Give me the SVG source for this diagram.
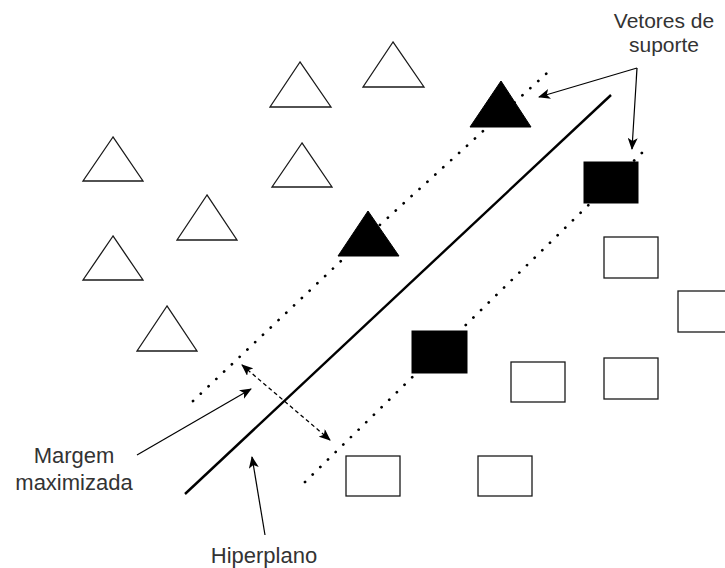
<svg xmlns="http://www.w3.org/2000/svg" width="725" height="568" viewBox="0 0 725 568">
  <style>
    .label { font-family: "Liberation Sans", Arial, sans-serif; font-size: 22px; fill: #333333; text-anchor: middle; }
    .tight { font-size: 21px; }
    .hollow { fill: #ffffff; stroke: #1a1a1a; stroke-width: 1.3; }
    .solid { fill: #000000; stroke: #000000; stroke-width: 1; }
    .margin { fill: none; stroke: #000000; stroke-width: 2.7; stroke-dasharray: 0.1 10.6; stroke-linecap: round; }
    .hyper { fill: none; stroke: #000000; stroke-width: 2.4; }
    .pointer { fill: none; stroke: #000000; stroke-width: 1.2; }
    .gap { fill: none; stroke: #000000; stroke-width: 1.3; stroke-dasharray: 4 3; }
  </style>
  <defs>
    <marker id="classic" viewBox="0 0 12 10" refX="11" refY="5" markerWidth="12" markerHeight="10" markerUnits="userSpaceOnUse" orient="auto-start-reverse">
      <path d="M0,0 L12,5 L0,10 L3,5 Z" fill="#000000"/>
    </marker>
  </defs>
  <rect width="725" height="568" fill="#ffffff"/>

  <!-- margin boundaries and separating line -->
  <g id="connectors">
    <polyline class="margin" points="193,401 360,243 547,73"/>
    <line class="margin" x1="305" y1="482" x2="649" y2="146"/>
    <line class="hyper" x1="185" y1="494" x2="611" y2="95"/>
    <line class="gap" x1="242" y1="365" x2="330" y2="440" marker-start="url(#classic)" marker-end="url(#classic)"/>
    <line class="pointer" x1="137" y1="455" x2="251" y2="389" marker-end="url(#classic)"/>
    <line class="pointer" x1="265" y1="535" x2="252" y2="457" marker-end="url(#classic)"/>
    <line class="pointer" x1="637" y1="68" x2="539" y2="97" marker-end="url(#classic)"/>
    <line class="pointer" x1="637" y1="68" x2="632" y2="149" marker-end="url(#classic)"/>
  </g>

  <!-- class A: triangles -->
  <g id="tri1"><polygon class="hollow" points="300,62 270,107 331,107"/></g>
  <g id="tri2"><polygon class="hollow" points="393,42 363,87 424,87"/></g>
  <g id="tri3"><polygon class="hollow" points="302,143 272,187 332,187"/></g>
  <g id="tri4"><polygon class="hollow" points="113,137 83,181 143,181"/></g>
  <g id="tri5"><polygon class="hollow" points="207,195 177,240 237,240"/></g>
  <g id="tri6"><polygon class="hollow" points="113,236 83,280 143,280"/></g>
  <g id="tri7"><polygon class="hollow" points="167,306 137,351 197,351"/></g>
  <g id="sv-tri1"><polygon class="solid" points="501,81 470,127 531,127"/></g>
  <g id="sv-tri2"><polygon class="solid" points="368,211 338,256 399,256"/></g>

  <!-- class B: rectangles -->
  <g id="sv-sq1"><rect class="solid" x="584" y="162" width="54" height="41"/></g>
  <g id="sv-sq2"><rect class="solid" x="412" y="331" width="55" height="42"/></g>
  <g id="sq1"><rect class="hollow" x="604" y="237" width="54" height="41"/></g>
  <g id="sq2"><rect class="hollow" x="678" y="291" width="54" height="41"/></g>
  <g id="sq3"><rect class="hollow" x="511" y="362" width="54" height="40"/></g>
  <g id="sq4"><rect class="hollow" x="604" y="358" width="54" height="41"/></g>
  <g id="sq5"><rect class="hollow" x="478" y="456" width="54" height="40"/></g>
  <g id="sq6"><rect class="hollow" x="346" y="456" width="54" height="40"/></g>

  <!-- labels -->
  <g id="label-vetores">
    <text class="label tight" x="664" y="28">Vetores de</text>
    <text class="label tight" x="664" y="52">suporte</text>
  </g>
  <g id="label-margem">
    <text class="label" x="74" y="463">Margem</text>
    <text class="label" x="74" y="490">maximizada</text>
  </g>
  <g id="label-hiperplano">
    <text class="label" x="264" y="563">Hiperplano</text>
  </g>
</svg>
